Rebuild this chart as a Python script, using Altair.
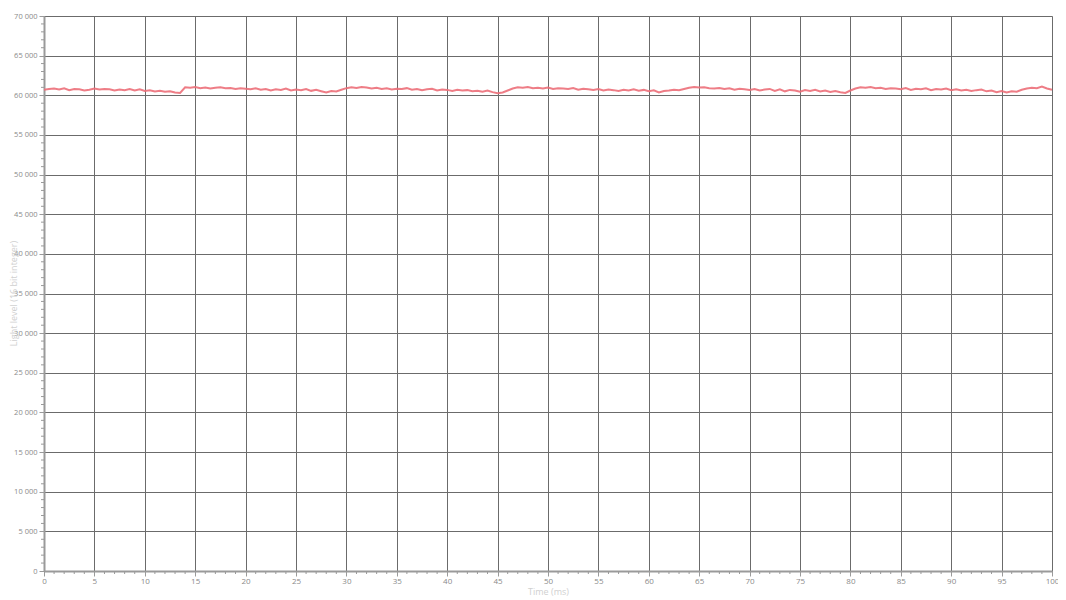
import altair as alt
import pandas as pd

light_level = [
    60700, 60780, 60850, 60720, 60880, 60650, 60800, 60760, 60620, 60700, 60850, 60720, 60780, 60770,
    60600, 60720, 60650, 60800, 60600, 60750, 60550, 60620, 60480, 60560, 60450, 60520, 60350, 60300,
    61000, 60950, 61050, 60900, 60980, 60850, 60950, 61000, 60880, 60920, 60780, 60900,
    60820, 60750, 60880, 60700, 60800, 60620, 60750, 60680, 60850, 60600, 60720, 60650, 60780, 60560, 60700, 60520,
    60350, 60550, 60480, 60700,
    60900, 61000, 60920, 61050, 60980, 60850,
    60950, 60800, 60880, 60720, 60820, 60780, 60900, 60700, 60800, 60650, 60750, 60820,
    60600, 60720, 60680, 60550, 60700, 60600, 60650, 60520, 60580, 60450, 60600, 60400,
    60250, 60350, 60600, 60850,
    61000, 60950, 61050, 60880, 60950, 60850, 60980, 60800, 60900, 60850, 60780, 60920, 60700, 60820,
    60750, 60680, 60800, 60600, 60720, 60650, 60550, 60700, 60620, 60750,
    60580, 60680, 60500, 60620, 60350, 60550, 60600, 60700, 60650, 60800,
    60950, 61050, 60980, 61000,
    60900, 60850, 60920, 60780, 60880, 60700, 60820, 60750, 60680, 60800, 60620, 60720, 60800, 60550,
    60750, 60500, 60680, 60600, 60450, 60650, 60550, 60700, 60480, 60600, 60420, 60550, 60380, 60300,
    60600, 60850,
    61000, 60950, 61050, 60880, 60950, 60800, 60900, 60850, 60750,
    60900, 60680, 60820, 60750, 60880, 60650, 60800, 60720, 60850,
    60650, 60750, 60600, 60700, 60550, 60650, 60720, 60500, 60600, 60400, 60550, 60350, 60500, 60450,
    60700, 60850, 60950, 60900, 61100, 60850, 60700,
]
time_ms = [i * 0.5 for i in range(len(light_level))]

x_major = [0, 5, 10, 15, 20, 25, 30, 35, 40, 45, 50, 55, 60, 65, 70, 75, 80, 85, 90, 95, 100]
x_minor = [v for v in range(0, 101) if v % 5 != 0]
y_major = [0, 5000, 10000, 15000, 20000, 25000, 30000, 35000, 40000, 45000, 50000, 55000, 60000, 65000, 70000]
y_minor = [v for v in range(0, 70001, 1000) if v % 5000 != 0]

df = pd.DataFrame({"t": time_ms, "v": light_level})

FONT = "Open Sans"
PLOT_H = 555
xscale = alt.Scale(domain=[0, 100], nice=False, zero=False)
yscale = alt.Scale(domain=[0, 70000], nice=False)

x_axis = alt.Axis(values=x_major, title="Time (ms)", grid=True, gridColor="#6b6b6b", gridWidth=1,
                  domainColor="#9a9a9a", domainWidth=2, tickColor="#9a9a9a", tickSize=5,
                  labelColor="#8a8a8a", labelFontSize=8, labelFont=FONT, labelPadding=1,
                  labelOverlap=False,
                  titleColor="#d0d0d0", titleFontSize=9, titleFont=FONT, titleFontWeight="normal",
                  titlePadding=2, labelFlush=False)
y_axis = alt.Axis(values=y_major, title="Light level (16 bit integer)", grid=True, gridColor="#6b6b6b",
                  gridWidth=1, domainColor="#9a9a9a", domainWidth=2, tickColor="#9a9a9a", tickSize=5,
                  labelColor="#8a8a8a", labelFontSize=7.5, labelFont=FONT, labelPadding=2,
                  labelOverlap=False,
                  labelExpr="replace(format(datum.value, ','), ',', ' ')",
                  titleColor="#d0d0d0", titleFontSize=9, titleFont=FONT, titleFontWeight="normal",
                  titleX=-31, titleY=277, titleAngle=270, titleAlign="center", titleBaseline="middle")

line = alt.Chart(df).mark_line(color="#ec6f79", strokeWidth=2, opacity=0.9).encode(
    x=alt.X("t:Q", scale=xscale, axis=x_axis),
    y=alt.Y("v:Q", scale=yscale, axis=y_axis),
)

xminor_df = pd.DataFrame({"t": x_minor})
xminor = alt.Chart(xminor_df).mark_rule(color="#9a9a9a", strokeWidth=1).encode(
    x=alt.X("t:Q", scale=xscale, axis=x_axis),
    y=alt.value(PLOT_H),
    y2=alt.value(PLOT_H + 3),
)
yminor_df = pd.DataFrame({"v": y_minor})
yminor = alt.Chart(yminor_df).mark_rule(color="#9a9a9a", strokeWidth=1).encode(
    y=alt.Y("v:Q", scale=yscale, axis=y_axis),
    x=alt.value(-3),
    x2=alt.value(0),
)

chart = alt.layer(line, xminor, yminor).properties(
    width=1008, height=PLOT_H,
    autosize=alt.AutoSizeParams(type="none"),
    padding={"left": 36, "top": 8, "right": 6, "bottom": 27},
).configure_view(stroke=None).configure(background="white")

chart.save("out.html", embed_options={"renderer": "svg", "actions": False})
